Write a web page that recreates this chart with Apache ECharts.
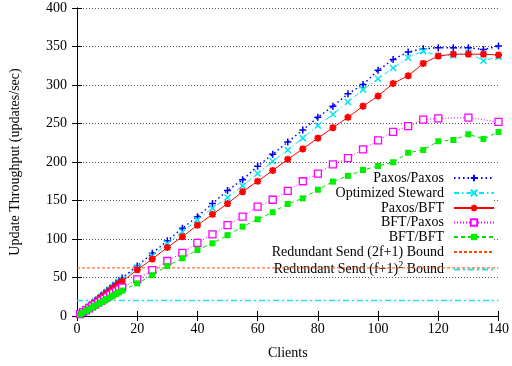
<!DOCTYPE html>
<html>
<head>
<meta charset="utf-8">
<script src="https://cdn.jsdelivr.net/npm/echarts@6/dist/echarts.min.js"></script>
<style>html,body{margin:0;padding:0;background:#fff;}#c{width:512px;height:366px;}</style>
</head>
<body>
<div id="c"></div>
<script>
var clients = [1,2,3,4,5,6,7,8,9,10,11,12,13,14,15,20,25,30,35,40,45,50,55,60,65,70,75,80,85,90,95,100,105,110,115,120,125,130,135,140];
var paxosPaxos = [3.3,6.7,10,13.1,16.6,19.8,23.1,26.3,29.8,33,36.2,39.6,42.8,46.1,49.3,65,81.4,97.8,114,129,146,163,177,194.5,210,226,241.6,258,272.5,288.5,300.5,319,333,343,347,348.5,348.5,348.5,346,350.6];
var steward = [3.1,6.3,9.5,12.6,15.7,18.8,22,25.2,28.4,31.5,34.6,37.7,40.9,44.1,47.2,63,78,94,109.5,125,140,154,169,185,201,215.6,231,247.5,262,278,294,308,322,335.5,344,338,338.5,342,331.6,336.5];
var paxosBft = [3,6.1,9,12,15.1,18,21,24.1,27,30,33.1,36,39,42.1,45,60,74,89,103,118,132,146,161.5,175,189,203.5,217,231,244.6,258,272.5,285.7,302,312,328,337.7,340,340,340,339];
var bftPaxos = [2.5,5,7.4,9.9,12.4,14.8,17.3,19.7,22.2,24.7,27.1,29.6,32,34.5,37,47.6,59.7,71.4,82,95,106,118,129,142,151,162.5,175,185,197,205,216.5,228,239,246.5,255,256.7,null,257.6,null,252];
var bftBft = [2.2,4.4,6.6,8.9,11,13.2,15.4,17.7,19.8,22,24.2,26.5,28.6,30.8,33,42.4,53,65,75,85.7,94.4,105,116,125.6,134.7,145.5,152.8,164,174.5,182,189.6,194.8,199.6,212,215.6,227,228.6,236,230,239];
var boundX = [0, 140];
var bound2f1 = [62.5, 62.5];
var boundF1sq = [20, 20];
var xTicks = {min: 0, max: 140, interval: 20};
var yTicks = {min: 0, max: 400, interval: 50};

function pairs(xs, ys) { return xs.map(function (x, i) { return [x, ys[i]]; }); }

var FONT = 'Liberation Serif';
var names = ['Paxos/Paxos', 'Optimized Steward', 'Paxos/BFT', 'BFT/Paxos', 'BFT/BFT', 'Redundant Send (2f+1) Bound', 'Redundant Send (f+1)^2 Bound'];
var legendCenters = [178, 193, 208, 222.5, 237, 252, 267];

var plusPath = 'path://M0,-1L0,1M-1,0L1,0';
var crossPath = 'path://M-1,-1L1,1M-1,1L1,-1';
var starPath = 'path://M0,-1L0,1M-1,0L1,0M-0.75,-0.75L0.75,0.75M-0.75,0.75L0.75,-0.75';

var tickStyle = {show: true, inside: true, length: 5, lineStyle: {color: '#000', width: 1}};
var lineAxis = {show: true, lineStyle: {color: '#000', width: 1}};

var legends = names.map(function (n, i) {
  var item = i >= 5 ? {name: n, itemStyle: {color: 'rgba(0,0,0,0)', borderColor: 'rgba(0,0,0,0)', borderWidth: 0}} : {name: n};
  return {
    data: [item],
    orient: 'vertical',
    align: 'right',
    right: 17,
    top: legendCenters[i] - 7,
    padding: 0,
    itemWidth: 40,
    itemHeight: 8,
    z: 2,
    selectedMode: false,
    textStyle: {fontFamily: FONT, fontSize: 14, color: '#000', lineHeight: 14, padding: [0, 5, 0, 0],
      rich: {t: {fontFamily: FONT, fontSize: 14, color: '#000'}, s: {fontFamily: FONT, fontSize: 10, color: '#000', padding: [0, 0, 9, 0]}}},
    formatter: function (name) {
      if (name.indexOf('^2') >= 0) return '{t|Redundant Send (f+1)}{s|2}{t| Bound}';
      return name;
    }
  };
});

var option = {
  backgroundColor: '#fff',
  animation: false,
  grid: {left: 74, right: 11, top: 8, bottom: 50, containLabel: false},
  graphic: [{type: 'rect', z: 1, shape: {x: 200, y: 168, width: 294, height: 107}, style: {fill: '#fff'}, silent: true}],
  legend: legends,
  xAxis: [
    {type: 'value', min: xTicks.min, max: xTicks.max, interval: xTicks.interval, position: 'bottom',
      axisLine: lineAxis, axisTick: tickStyle, splitLine: {show: false},
      axisLabel: {fontFamily: FONT, fontSize: 14, color: '#000', margin: 6},
      name: 'Clients', nameLocation: 'middle', nameGap: 30, nameTextStyle: {fontFamily: FONT, fontSize: 14, color: '#000'}},
    {type: 'value', min: xTicks.min, max: xTicks.max, interval: xTicks.interval, position: 'top',
      axisLine: lineAxis, axisTick: tickStyle, splitLine: {show: false}, axisLabel: {show: false}}
  ],
  yAxis: [
    {type: 'value', min: yTicks.min, max: yTicks.max, interval: yTicks.interval, position: 'left',
      axisLine: lineAxis, axisTick: tickStyle,
      splitLine: {show: true, lineStyle: {color: '#555', width: 1, type: [1, 2]}},
      axisLabel: {fontFamily: FONT, fontSize: 14, color: '#000', margin: 10},
      name: 'Update Throughput (updates/sec)', nameLocation: 'middle', nameGap: 55, nameRotate: 90,
      nameTextStyle: {fontFamily: FONT, fontSize: 14, color: '#000'}},
    {type: 'value', min: yTicks.min, max: yTicks.max, interval: yTicks.interval, position: 'right',
      axisLine: lineAxis, axisTick: tickStyle, splitLine: {show: false}, axisLabel: {show: false}}
  ],
  series: [
    {name: names[0], type: 'line', z: 3, data: pairs(clients, paxosPaxos), symbol: plusPath, symbolSize: 7,
      lineStyle: {color: '#0000ff', width: 1.5, type: [1.5, 3]}, itemStyle: {color: '#0000ff', borderColor: '#0000ff', borderWidth: 1.5}},
    {name: names[1], type: 'line', z: 3, data: pairs(clients, steward), symbol: crossPath, symbolSize: 6,
      lineStyle: {color: '#00e5f0', width: 1, type: [5, 3, 1.5, 3]}, itemStyle: {color: '#00e5f0', borderColor: '#00e5f0', borderWidth: 1.5}},
    {name: names[2], type: 'line', z: 3, data: pairs(clients, paxosBft), symbol: starPath, symbolSize: 7,
      lineStyle: {color: '#ff0000', width: 1}, itemStyle: {color: '#ff0000', borderColor: '#ff0000', borderWidth: 2}},
    {name: names[3], type: 'line', z: 3, data: pairs(clients, bftPaxos), connectNulls: true, symbol: 'rect', symbolSize: 7,
      lineStyle: {color: '#ff00ff', width: 1, type: [1, 2]}, itemStyle: {color: '#ffffff', borderColor: '#ff00ff', borderWidth: 1.3}},
    {name: names[4], type: 'line', z: 3, data: pairs(clients, bftBft), symbol: 'rect', symbolSize: 6,
      lineStyle: {color: '#00dd00', width: 1, type: [4, 3]}, itemStyle: {color: '#00ee00'}},
    {name: names[5], type: 'line', z: 3, data: pairs(boundX, bound2f1), symbol: 'none',
      lineStyle: {color: '#ff4a00', width: 1, type: [3, 2]}, itemStyle: {color: '#ff4a00'}},
    {name: names[6], type: 'line', z: 3, data: pairs(boundX, boundF1sq), symbol: 'none',
      lineStyle: {color: '#22ddee', width: 1.5, type: [6, 3, 2, 3]}, itemStyle: {color: '#22ddee'}}
  ]
};
var chart = echarts.init(document.getElementById('c'), null, {renderer: 'canvas'});
chart.setOption(option);
</script>
</body>
</html>
